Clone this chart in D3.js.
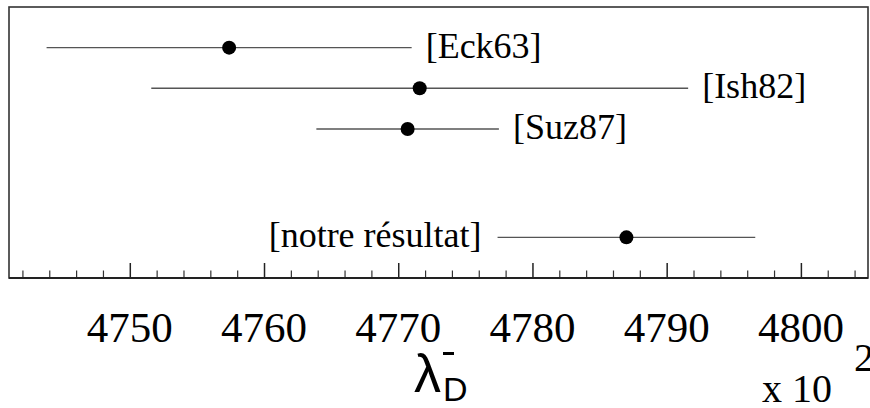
<!DOCTYPE html>
<html>
<head>
<meta charset="utf-8">
<script src="https://cdn.jsdelivr.net/npm/d3@7"></script>
<style>
  @font-face { font-family: "RefSerif"; src: local("Liberation Serif"), local("LiberationSerif"), local("Times New Roman"), local("Tinos"), local("FreeSerif"); }
  @font-face { font-family: "RefSans"; src: local("Liberation Sans"), local("LiberationSans"), local("Arial"); }
  svg text.sf { font-family: "Times New Roman", "Liberation Serif", RefSerif, Tinos, FreeSerif, "DejaVu Serif" !important; }
  svg text.ss { font-family: "Liberation Sans", RefSans, Arial !important; }
</style>
</head>
<body style="margin:0">
<svg id="chart" width="870" height="408" font-family="Times New Roman"></svg>
<script>
// ---- data ----
const labels = ["[Eck63]", "[Ish82]", "[Suz87]", "[notre résultat]"];
const centers = [4757.4, 4771.6, 4770.7, 4787.0];
const errors = [13.6, 20.0, 6.8, 9.6];
const rows = [0.85, 0.70, 0.55, 0.15];
const labelSide = ["right", "right", "right", "left"];
const majorTicks = [4750, 4760, 4770, 4780, 4790, 4800];
const xDomain = [4741, 4805];

// ---- layout ----
const svg = d3.select("#chart");
const mLeft = 9, mRight = 868, mTop = 7, mBottom = 278;

const x = d3.scaleLinear().domain(xDomain).range([mLeft, mRight]);
const y = d3.scaleLinear().domain([0, 1]).range([mBottom, mTop]);

// frame
svg.append("rect")
  .attr("x", mLeft).attr("y", mTop)
  .attr("width", mRight - mLeft).attr("height", mBottom - mTop)
  .attr("fill", "none").attr("stroke", "#333").attr("stroke-width", 1.6);

// minor ticks
const minorTicks = d3.range(xDomain[0] + 1, xDomain[1] + 1, 2).filter(v => v % 10 !== 0);
const minorAxis = d3.axisBottom(x).tickValues(minorTicks).tickSize(-7.5).tickFormat("");
const gMinor = svg.append("g").attr("transform", `translate(0,${mBottom})`).call(minorAxis);
gMinor.select(".domain").remove();
gMinor.selectAll(".tick text").remove();
gMinor.selectAll(".tick line").attr("stroke", "#333").attr("stroke-width", 1.2);

// major ticks
const majorAxis = d3.axisBottom(x).tickValues(majorTicks).tickSize(-15).tickFormat("");
const gMajor = svg.append("g").attr("transform", `translate(0,${mBottom})`).call(majorAxis);
gMajor.select(".domain").remove();
gMajor.selectAll(".tick text").remove();
gMajor.selectAll(".tick line").attr("stroke", "#222").attr("stroke-width", 1.5);

svg.selectAll("text.ticklab").data(majorTicks).join("text")
  .attr("class", "ticklab sf")
  .attr("x", d => x(d)).attr("y", mBottom + 64)
  .attr("text-anchor", "middle")
  .attr("font-size", 43)
  .attr("fill", "#000")
  .text(d => d3.format("d")(d));

// axis line
svg.append("line")
  .attr("x1", mLeft).attr("x2", mRight)
  .attr("y1", mBottom).attr("y2", mBottom)
  .attr("stroke", "#222").attr("stroke-width", 2);

// error bars
const data = labels.map((l, i) => ({ label: l, c: centers[i], e: errors[i], r: rows[i], side: labelSide[i] }));

svg.append("g").selectAll("line").data(data).join("line")
  .attr("x1", d => x(d.c - d.e)).attr("x2", d => x(d.c + d.e))
  .attr("y1", d => y(d.r)).attr("y2", d => y(d.r))
  .attr("stroke", "#555").attr("stroke-width", 1.4);

svg.append("g").selectAll("circle").data(data).join("circle")
  .attr("cx", d => x(d.c)).attr("cy", d => y(d.r)).attr("r", 7)
  .attr("fill", "#000");

svg.selectAll("text.lab").data(data).join("text")
  .attr("class", "lab sf")
  .attr("x", d => d.side === "right" ? x(d.c + d.e) + 14 : x(d.c - d.e) - 16)
  .attr("y", d => y(d.r) + 10)
  .attr("text-anchor", d => d.side === "right" ? "start" : "end")
  .attr("font-size", 36)
  .attr("fill", "#000")
  .text(d => d.label);

// axis title: lambda with bar superscript and D subscript
svg.append("text").attr("class", "ss")
  .attr("x", 414).attr("y", 392)
  .attr("font-size", 54)
  .attr("fill", "#000")
  .text("λ");
svg.append("rect")
  .attr("x", 443).attr("y", 352).attr("width", 11).attr("height", 3)
  .attr("fill", "#000");
svg.append("text").attr("class", "ss")
  .attr("x", 443).attr("y", 401)
  .attr("font-size", 34)
  .attr("fill", "#000")
  .text("D");

// exponent label
svg.append("text").attr("class", "sf")
  .attr("x", 762).attr("y", 402)
  .attr("font-size", 40)
  .attr("fill", "#000")
  .text("x 10");
svg.append("text").attr("class", "sf")
  .attr("x", 854).attr("y", 371)
  .attr("font-size", 40)
  .attr("fill", "#000")
  .text("2");
</script>
</body>
</html>
